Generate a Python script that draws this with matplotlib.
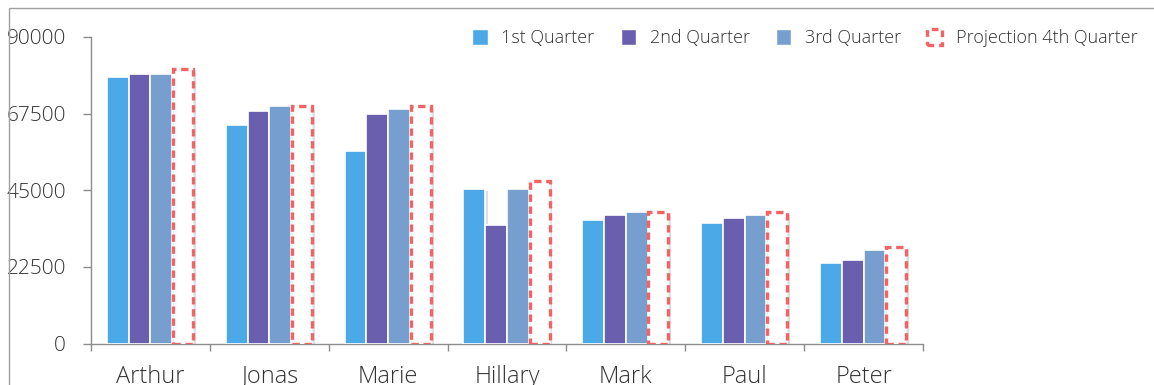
import numpy as np
import matplotlib
matplotlib.use("Agg")
import matplotlib.pyplot as plt
import matplotlib.patheffects as pe
from matplotlib.patches import Rectangle, Patch

people = ["Arthur", "Jonas", "Marie", "Hillary", "Mark", "Paul", "Peter"]
q1 = [78300, 64300, 56400, 45500, 36200, 35300, 23600]
q2 = [79200, 68300, 67400, 34700, 37700, 36900, 24400]
q3 = [79200, 69700, 69000, 45500, 38500, 37700, 27500]
q4_projection = [80500, 69800, 69800, 47800, 38600, 38600, 28300]
series_names = ["1st Quarter", "2nd Quarter", "3rd Quarter", "Projection 4th Quarter"]
y_ticks = [0, 22500, 45000, 67500, 90000]

colors = ["#4aa9e6", "#6a5eae", "#769fcf"]
proj_color = "#f46363"
text_color = "#333333"
axis_color = "#8c8c8c"

plt.rcParams["font.family"] = ["Open Sans", "DejaVu Sans"]
plt.rcParams["font.weight"] = "light"

fig = plt.figure(figsize=(11.54, 3.85), dpi=100)
ax = fig.add_axes([91 / 1154, 1 - 343.5 / 385, (923 - 91) / 1154, (343.5 - 37) / 385])

x = np.arange(len(people))
w = 0.183
offsets = np.array([-1.5, -0.5, 0.5, 1.5]) * w
shadow = [pe.SimplePatchShadow(offset=(2, -2), shadow_rgbFace="#000000", alpha=0.12), pe.Normal()]

for vals, col, off in zip([q1, q2, q3], colors, offsets[:3]):
    bars = ax.bar(x + off, vals, w, color=col, edgecolor="white", linewidth=1.2, zorder=3)
    for b in bars:
        b.set_path_effects(shadow)

proj = ax.bar(x + offsets[3], q4_projection, w * 0.92, facecolor="white", edgecolor=proj_color,
              linewidth=2.4, linestyle=(0, (2.2, 1.4)), zorder=3)
for b in proj:
    b.set_path_effects(shadow)

ax.set_xlim(-0.5, len(people) - 0.5)
ax.set_ylim(0, 90000)

for s in ["top", "right"]:
    ax.spines[s].set_visible(False)
for s in ["left", "bottom"]:
    ax.spines[s].set_color(axis_color)
    ax.spines[s].set_linewidth(1.0)

ax.set_yticks(y_ticks)
ax.set_yticklabels([str(v) for v in y_ticks])
ax.tick_params(axis="y", direction="out", length=6, width=1, color=axis_color,
               pad=12, labelsize=15, labelcolor=text_color)

ax.set_xticks(np.arange(len(people) + 1) - 0.5)
ax.set_xticklabels([])
ax.tick_params(axis="x", which="major", direction="out", length=5, width=1, color=axis_color)
ax.set_xticks(x, minor=True)
ax.set_xticklabels(people, minor=True)
ax.tick_params(axis="x", which="minor", length=0, pad=15.5, labelsize=17, labelcolor=text_color)

handles = [Patch(facecolor=c, edgecolor="white") for c in colors]
handles.append(Patch(facecolor="white", edgecolor=proj_color, linewidth=2.4, linestyle=(0, (2, 1.5))))
leg = fig.legend(handles, series_names, loc="center right", bbox_to_anchor=(1145 / 1154, 1 - 38 / 385),
                 ncol=4, frameon=False, fontsize=13, handlelength=0.85, handleheight=1.0,
                 handletextpad=0.75, columnspacing=1.45, borderaxespad=0)
for t in leg.get_texts():
    t.set_color(text_color)

# outer frame: top and left edge lines
fig.add_artist(Rectangle((9 / 1154, -0.2), 1.2, 1.2 - 8 / 385, transform=fig.transFigure,
                         fill=False, edgecolor="#a0a0a0", linewidth=1.0))

fig.savefig("out.png", dpi=100)
